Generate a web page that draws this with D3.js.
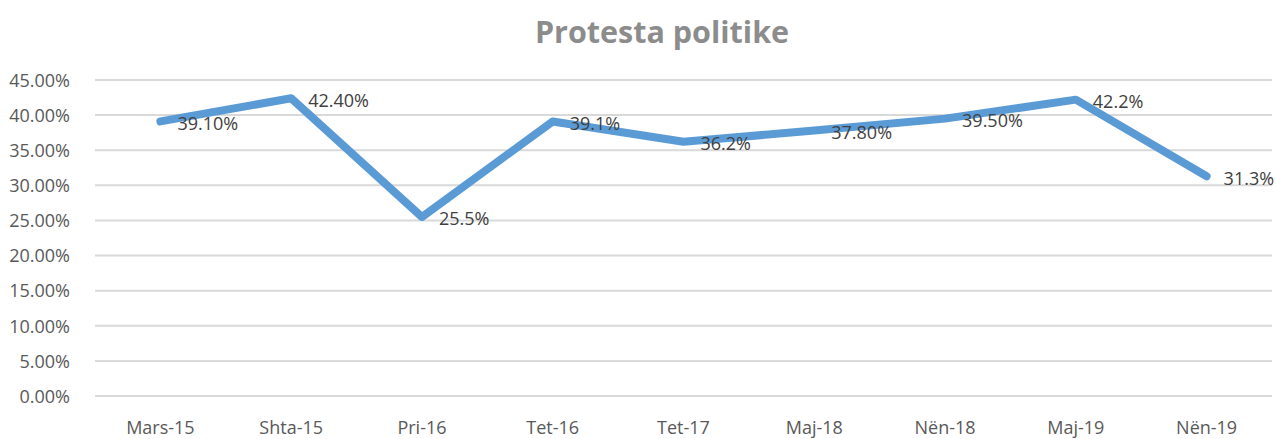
<!DOCTYPE html>
<html lang="en">
<head>
<meta charset="utf-8">
<title>Protesta politike</title>
<script src="https://cdn.jsdelivr.net/npm/d3@7"></script>
<style>
  body { margin: 0; background: #fff; }
  text { font-family: "Open Sans", sans-serif; }
</style>
</head>
<body>
<script>
// data
var categories = ["Mars-15", "Shta-15", "Pri-16", "Tet-16", "Tet-17", "Maj-18", "Nën-18", "Maj-19", "Nën-19"];
var values = [39.1, 42.4, 25.5, 39.1, 36.2, 37.8, 39.5, 42.2, 31.3];
var valueLabels = ["39.10%", "42.40%", "25.5%", "39.1%", "36.2%", "37.80%", "39.50%", "42.2%", "31.3%"];
var yTicks = [0, 5, 10, 15, 20, 25, 30, 35, 40, 45];

var w = 1276, h = 439;
var margin = {top: 80, right: 4, bottom: 43, left: 95};

var svg = d3.select("body").append("svg").attr("width", w).attr("height", h);

var x = d3.scaleBand().domain(categories).range([margin.left, w - margin.right]);
var y = d3.scaleLinear().domain([0, 45]).range([h - margin.bottom, margin.top]);

// title
svg.append("text")
    .attr("x", 662).attr("y", 43)
    .attr("text-anchor", "middle")
    .style("font-size", "30.5px").style("font-weight", "bold")
    .style("fill", "#8c8c8c")
    .text("Protesta politike");

// gridlines
svg.append("g").selectAll("line")
    .data(yTicks).enter().append("line")
    .attr("x1", margin.left).attr("x2", w - margin.right)
    .attr("y1", function(d) { return y(d); })
    .attr("y2", function(d) { return y(d); })
    .attr("stroke", "#d9d9d9").attr("stroke-width", 2);

// y axis
var yAxis = svg.append("g")
    .attr("transform", "translate(" + (margin.left - 22) + ",0)")
    .call(d3.axisLeft(y).tickValues(yTicks).tickSize(0).tickFormat(function(d) { return d.toFixed(2) + "%"; }));
yAxis.select(".domain").remove();
yAxis.selectAll("text").style("font-size", "18px").style("fill", "#595959").attr("dy", "0.35em");

// x axis
var xAxis = svg.append("g")
    .attr("transform", "translate(0," + (h - margin.bottom + 22) + ")")
    .call(d3.axisBottom(x).tickSize(0));
xAxis.select(".domain").remove();
xAxis.selectAll("text").style("font-size", "18px").style("fill", "#595959");

// line
var data = categories.map(function(c, i) { return {cat: c, v: values[i], label: valueLabels[i]}; });
var line = d3.line()
    .x(function(d) { return x(d.cat) + x.bandwidth() / 2; })
    .y(function(d) { return y(d.v); });

svg.append("path")
    .datum(data)
    .attr("d", line)
    .attr("fill", "none")
    .attr("stroke", "#5b9bd5")
    .attr("stroke-width", 8)
    .attr("stroke-linejoin", "round")
    .attr("stroke-linecap", "round");

// data labels
svg.append("g").selectAll("text")
    .data(data).enter().append("text")
    .attr("x", function(d) { return x(d.cat) + x.bandwidth() / 2 + 17; })
    .attr("y", function(d) { return y(d.v) + 2; })
    .attr("dy", "0.35em")
    .style("font-size", "18px").style("fill", "#404040")
    .text(function(d) { return d.label; });
</script>
</body>
</html>
